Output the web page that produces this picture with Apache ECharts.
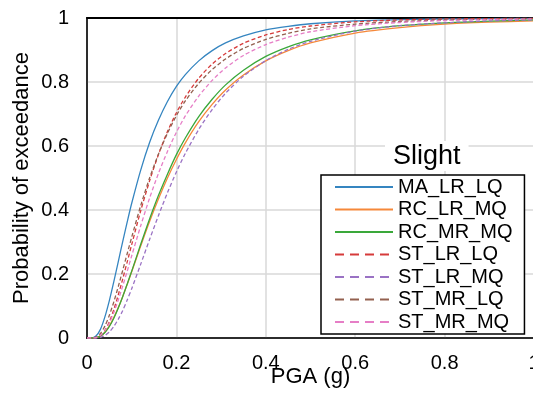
<!DOCTYPE html>
<html>
<head>
<meta charset="utf-8">
<script src="https://cdn.jsdelivr.net/npm/echarts@6/dist/echarts.min.js"></script>
<style>
html,body{margin:0;padding:0;background:#fff;}
#chart{width:533px;height:393px;}
</style>
</head>
<body>
<div id="chart"></div>
<script>
var pga = [0, 0.01, 0.02, 0.03, 0.04, 0.05, 0.06, 0.07, 0.08, 0.09, 0.10, 0.12, 0.14, 0.16, 0.18, 0.20, 0.22, 0.25, 0.28, 0.31, 0.35, 0.40, 0.45, 0.50, 0.60, 0.70, 0.80, 0.90, 1.00];
var MA_LR_LQ = [0, 0.0002, 0.006, 0.027, 0.066, 0.117, 0.176, 0.239, 0.302, 0.363, 0.421, 0.524, 0.611, 0.681, 0.739, 0.786, 0.823, 0.866, 0.898, 0.922, 0.944, 0.963, 0.974, 0.982, 0.991, 0.995, 0.997, 0.998, 0.999];
var RC_LR_MQ = [0, 0, 0.001, 0.006, 0.018, 0.038, 0.064, 0.095, 0.130, 0.168, 0.207, 0.287, 0.364, 0.435, 0.500, 0.558, 0.610, 0.676, 0.730, 0.775, 0.822, 0.866, 0.898, 0.922, 0.953, 0.970, 0.981, 0.987, 0.991];
var RC_MR_MQ = [0, 0, 0.001, 0.006, 0.017, 0.036, 0.062, 0.094, 0.130, 0.169, 0.209, 0.292, 0.372, 0.446, 0.512, 0.573, 0.625, 0.692, 0.746, 0.791, 0.837, 0.880, 0.910, 0.932, 0.960, 0.976, 0.985, 0.990, 0.994];
var ST_LR_LQ = [0, 0, 0.001, 0.008, 0.024, 0.051, 0.089, 0.135, 0.185, 0.238, 0.292, 0.397, 0.491, 0.574, 0.645, 0.704, 0.753, 0.812, 0.856, 0.889, 0.921, 0.947, 0.964, 0.975, 0.988, 0.994, 0.997, 0.998, 0.999];
var ST_LR_MQ = [0, 0, 0, 0.002, 0.008, 0.019, 0.036, 0.059, 0.086, 0.119, 0.154, 0.230, 0.308, 0.383, 0.454, 0.519, 0.577, 0.652, 0.714, 0.765, 0.818, 0.867, 0.902, 0.927, 0.959, 0.976, 0.985, 0.991, 0.994];
var ST_MR_LQ = [0, 0, 0.003, 0.014, 0.037, 0.071, 0.113, 0.161, 0.212, 0.264, 0.315, 0.413, 0.500, 0.575, 0.640, 0.695, 0.741, 0.796, 0.839, 0.872, 0.905, 0.933, 0.952, 0.966, 0.981, 0.989, 0.994, 0.996, 0.998];
var ST_MR_MQ = [0, 0, 0.001, 0.008, 0.023, 0.047, 0.080, 0.119, 0.163, 0.209, 0.257, 0.350, 0.437, 0.515, 0.583, 0.643, 0.694, 0.756, 0.805, 0.844, 0.883, 0.917, 0.940, 0.957, 0.976, 0.986, 0.992, 0.995, 0.997];
var seriesNames = ['MA_LR_LQ', 'RC_LR_MQ', 'RC_MR_MQ', 'ST_LR_LQ', 'ST_LR_MQ', 'ST_MR_LQ', 'ST_MR_MQ'];
var seriesValues = [MA_LR_LQ, RC_LR_MQ, RC_MR_MQ, ST_LR_LQ, ST_LR_MQ, ST_MR_LQ, ST_MR_MQ];
var colors = ['#3585c0', '#f5883a', '#3aa83a', '#d63a3a', '#9a72c4', '#93604f', '#e67ec6'];
var dashed = [false, false, false, true, true, true, true];
var stateName = 'Slight';

var FONT = '"Liberation Sans", Arial, sans-serif';
var chart = echarts.init(document.getElementById('chart'), null, {renderer: 'canvas'});

var series = seriesNames.map(function (n, i) {
  return {
    name: n,
    type: 'line',
    symbol: 'none',
    smooth: 0.25,
    animation: false,
    data: pga.map(function (x, k) { return [x, seriesValues[i][k]]; }),
    lineStyle: {color: colors[i], width: 1.3, type: dashed[i] ? [4, 2.5] : 'solid'},
    itemStyle: {color: colors[i]}
  };
});

chart.setOption({
  animation: false,
  textStyle: {fontFamily: FONT},
  title: {
    text: stateName,
    left: 385, top: 141,
    padding: [2, 8, 1, 8],
    backgroundColor: '#fff',
    textStyle: {fontSize: 27, fontWeight: 'normal', color: '#000', fontFamily: FONT}
  },
  legend: {
    orient: 'vertical',
    left: 321, top: 175,
    padding: [2, 12, 2, 13],
    itemWidth: 58, itemHeight: 14, itemGap: 2.5,
    backgroundColor: '#fff',
    borderColor: '#000', borderWidth: 1.5,
    textStyle: {fontSize: 20, color: '#000', fontFamily: FONT},
    itemStyle: {color: 'rgba(0,0,0,0)', borderWidth: 0, opacity: 0},
    data: seriesNames.map(function (n, i) {
      return {name: n, lineStyle: {width: 2, type: dashed[i] ? [9, 6] : 'solid'}};
    })
  },
  grid: {left: 87, top: 18, width: 447, height: 320, show: true, borderColor: '#000', borderWidth: 1.5,
    containLabel: false, outerBoundsMode: 'none'},
  xAxis: [{
    type: 'value', min: 0, max: 1, interval: 0.2,
    name: 'PGA (g)', nameLocation: 'middle', nameGap: 28, nameMoveOverlap: false,
    nameTextStyle: {fontSize: 22, color: '#000', fontFamily: FONT},
    axisLine: {show: true, lineStyle: {color: '#000', width: 1.5}},
    axisTick: {show: false},
    axisLabel: {fontSize: 20, color: '#000', margin: 15, fontFamily: FONT, hideOverlap: false,
      formatter: function (v) { return String(Math.round(v * 10) / 10); }},
    splitLine: {show: true, lineStyle: {color: '#d9d9d9', width: 1.5}}
  }, {
    type: 'value', min: 0, max: 1, interval: 0.2, position: 'top',
    axisLine: {show: true, lineStyle: {color: '#000', width: 2}},
    axisTick: {show: false}, axisLabel: {show: false}, splitLine: {show: false}
  }],
  yAxis: {
    type: 'value', min: 0, max: 1, interval: 0.2,
    name: 'Probability of exceedance', nameLocation: 'middle', nameGap: 54, nameMoveOverlap: false,
    nameTextStyle: {fontSize: 22, color: '#000', fontFamily: FONT},
    axisLine: {show: true, lineStyle: {color: '#000', width: 1.5}},
    axisTick: {show: false},
    axisLabel: {fontSize: 20, color: '#000', margin: 18, fontFamily: FONT,
      formatter: function (v) { return String(Math.round(v * 10) / 10); }},
    splitLine: {show: true, lineStyle: {color: '#d9d9d9', width: 1.5}}
  },
  series: series
});
</script>
</body>
</html>
